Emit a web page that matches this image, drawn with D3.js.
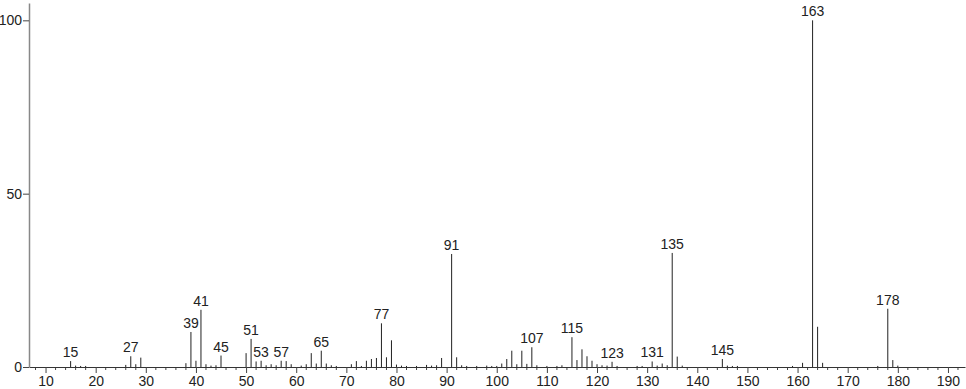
<!DOCTYPE html>
<html>
<head>
<meta charset="utf-8">
<script src="https://cdn.jsdelivr.net/npm/d3@7"></script>
<style>
  html, body { margin: 0; padding: 0; background: #fff; }
  svg { display: block; }
  text { font-family: "Liberation Sans", "DejaVu Sans", sans-serif; fill: #222; }
</style>
</head>
<body>
<svg id="chart" width="966" height="389"></svg>
<script>
const mz = [15,16,17,18,26,27,28,29,38,39,40,41,42,43,44,45,50,51,52,53,54,55,56,57,58,59,61,62,63,64,65,66,67,68,71,72,73,74,75,76,77,78,79,80,81,82,84,86,87,88,89,91,92,93,94,96,98,99,100,101,102,103,104,105,106,107,108,110,112,113,115,116,117,118,119,120,121,122,123,124,128,129,131,132,133,134,135,136,137,145,146,147,148,159,161,163,164,165,176,178,179,180];
const intensity = [1.7,0.4,0.3,0.3,0.6,3.1,0.8,2.7,1.1,10.1,1.8,16.5,0.8,0.4,0.5,3.3,4.0,8.1,1.6,1.8,0.5,0.8,0.5,1.8,1.7,0.8,0.4,0.8,4.0,1.0,4.7,1.0,0.5,0.3,0.8,1.7,0.3,1.8,2.3,2.6,12.6,2.8,7.7,0.7,0.4,0.3,0.3,0.6,0.4,0.5,2.6,32.6,2.8,0.5,0.3,0.3,0.4,0.3,0.3,1.0,2.3,4.7,0.8,4.7,0.9,5.7,0.5,0.3,0.3,0.5,8.6,2.0,5.1,3.1,1.8,0.8,0.5,0.4,1.5,0.3,0.3,0.3,1.6,0.4,1.0,0.5,32.9,3.0,0.4,2.3,0.4,0.3,0.3,0.3,1.2,100,11.6,1.2,0.3,16.8,2.0,0.4];
const labelledPeaks = [15,27,39,41,45,51,53,57,65,77,91,107,115,123,131,135,145,163,178];
const xTickValues = [10,20,30,40,50,60,70,80,90,100,110,120,130,140,150,160,170,180,190];
const yTickValues = [0,50,100];

const svg = d3.select("#chart");
const x = d3.scaleLinear().domain([6.7, 193.4]).range([29, 965]);
const y = d3.scaleLinear().domain([0, 105]).range([367, 3]);

const peaks = mz.map((m, i) => ({m, v: intensity[i]}));
const byMz = new Map(peaks.map(p => [p.m, p.v]));

// peaks
svg.append("g").selectAll("line").data(peaks).join("line")
  .attr("x1", d => x(d.m)).attr("x2", d => x(d.m))
  .attr("y1", y(0)).attr("y2", d => y(d.v))
  .attr("stroke", "#222").attr("stroke-width", 1);

// minor ticks
const minor = d3.range(8, 194, 2).filter(v => v % 10 !== 0);
svg.append("g").selectAll("line").data(minor).join("line")
  .attr("x1", d => x(d)).attr("x2", d => x(d))
  .attr("y1", y(0)).attr("y2", y(0) + 3)
  .attr("stroke", "#444").attr("stroke-width", 1);

// x axis
const xAxis = d3.axisBottom(x).tickValues(xTickValues).tickSize(6).tickPadding(3).tickSizeOuter(0);
const gx = svg.append("g").attr("transform", `translate(0,${y(0)})`).call(xAxis);
gx.select(".domain").attr("stroke", "#333");
gx.selectAll(".tick line").attr("stroke", "#444");
gx.selectAll("text").style("font-size", "14px").attr("fill", "#222");

// y axis
const yAxis = d3.axisLeft(y).tickValues(yTickValues).tickSize(6).tickPadding(1).tickSizeOuter(0);
const gy = svg.append("g").attr("transform", `translate(29,0)`).call(yAxis);
gy.select(".domain").attr("stroke", "#888").attr("stroke-width", 1.5);
gy.selectAll(".tick line").attr("stroke", "#444");
gy.selectAll("text").style("font-size", "14px").attr("fill", "#222");

// peak labels
svg.append("g").selectAll("text").data(labelledPeaks).join("text")
  .attr("x", d => x(d)).attr("y", d => y(byMz.get(d)) - 4)
  .attr("text-anchor", "middle")
  .style("font-size", "14px")
  .text(d => d);
</script>
</body>
</html>
